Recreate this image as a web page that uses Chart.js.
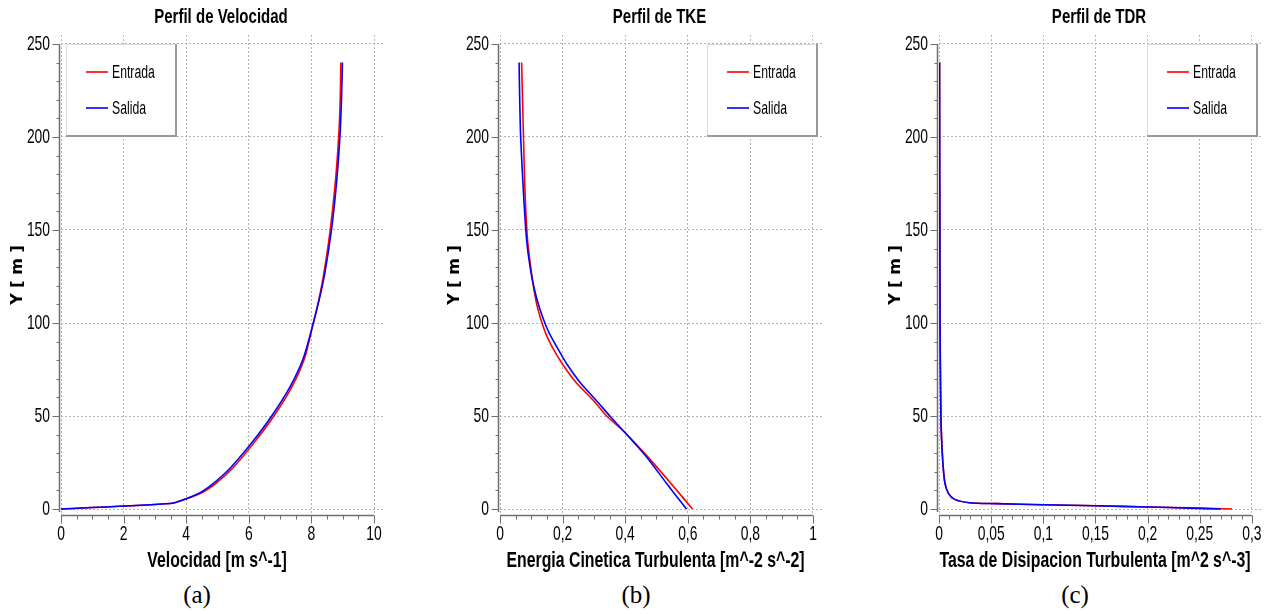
<!DOCTYPE html>
<html>
<head>
<meta charset="utf-8">
<script src="https://cdn.jsdelivr.net/npm/chart.js@4.4.1/dist/chart.umd.min.js"></script>
<style>
  body { margin: 0; background: #fff; width: 1274px; height: 614px; position: relative; overflow: hidden; }
  canvas { position: absolute; top: 0; }
  .cap { position: absolute; top: 580px; width: 60px; text-align: center; font-family: "Liberation Serif", serif; font-size: 25px; line-height: 30px; color: #000; }
</style>
</head>
<body>
<canvas id="c1" width="430" height="580" style="left:0px"></canvas>
<canvas id="c2" width="433" height="580" style="left:437px"></canvas>
<canvas id="c3" width="396" height="580" style="left:878px"></canvas>
<div class="cap" style="left:167px">(a)</div>
<div class="cap" style="left:606px">(b)</div>
<div class="cap" style="left:1045px">(c)</div>
<script>
// Perfil de velocidad
const alturaVel = [0, 3, 4.3, 8.8, 13.8, 21.9, 35.3, 50, 65.8, 81, 100, 112, 126, 150, 175, 200, 220, 240];
const velEntrada = [0, 3.5, 3.8, 4.5, 4.95, 5.48, 6.15, 6.8, 7.38, 7.78, 8.06, 8.23, 8.39, 8.6, 8.76, 8.87, 8.92, 8.94];
const velSalida = [0, 3.5, 3.8, 4.44, 4.87, 5.40, 6.08, 6.73, 7.32, 7.74, 8.06, 8.24, 8.42, 8.64, 8.8, 8.91, 8.96, 8.99];

// Perfil de TKE
const alturaTke = [0, 13.6, 27.9, 41, 50, 58.1, 68, 77.8, 86.7, 95.7, 108.8, 119.5, 130.3, 144.6, 170, 200, 220, 240];
const tkeEntrada = [0.615, 0.547, 0.473, 0.4, 0.341, 0.30, 0.243, 0.2, 0.168, 0.143, 0.119, 0.107, 0.098, 0.088, 0.08, 0.075, 0.072, 0.069];
const tkeSalida = [0.596, 0.533, 0.469, 0.4, 0.351, 0.309, 0.256, 0.214, 0.183, 0.154, 0.125, 0.108, 0.096, 0.085, 0.075, 0.066, 0.063, 0.061];

// Perfil de TDR
const alturaTdr = [0, 0.5, 1.1, 1.8, 2.3, 2.9, 3.4, 5.2, 8.4, 13.8, 22.7, 37, 50, 80, 100, 150, 200, 240];
const tdrEntrada = [0.281, 0.25, 0.2, 0.15, 0.1, 0.055, 0.029, 0.015, 0.009, 0.0058, 0.004, 0.0026, 0.0019, 0.0013, 0.0011, 0.0009, 0.0007, 0.0006];
const tdrSalida = [0.27, 0.24, 0.2, 0.15, 0.1, 0.055, 0.029, 0.015, 0.009, 0.0057, 0.004, 0.0025, 0.0018, 0.0012, 0.001, 0.0008, 0.0006, 0.0005];

// ticks
const yTicks = [0, 50, 100, 150, 200, 250];
const xTicksVel = [0, 2, 4, 6, 8, 10];
const xTicksTke = [0, 0.2, 0.4, 0.6, 0.8, 1];
const xTicksTdr = [0, 0.05, 0.1, 0.15, 0.2, 0.25, 0.3];

const fuente = "'Liberation Sans', Arial, sans-serif";

// texto estrecho (la fuente del original es muy condensada)
function texto(ctx, s, x, y, sx, align) {
    ctx.save();
    ctx.translate(x, y);
    ctx.scale(sx, 1);
    ctx.textAlign = align;
    ctx.textBaseline = "middle";
    ctx.fillText(s, 0, 0);
    ctx.restore();
}

const ejesPlugin = {
    id: "ejes",
    afterDraw(chart, args, o) {
        const ctx = chart.ctx, a = chart.chartArea;
        const xs = chart.scales.x, ys = chart.scales.y;
        ctx.save();
        ctx.strokeStyle = "#6e6e6e";

        // eje Y
        const axX = a.left - 1.5;
        ctx.lineWidth = 1.5;
        ctx.beginPath();
        ctx.moveTo(axX, ys.getPixelForValue(250));
        ctx.lineTo(axX, ys.getPixelForValue(0) + 3);
        ctx.stroke();
        ctx.lineWidth = 1;
        for (let v = 0; v <= 250; v += 10) {
            const p = Math.round(ys.getPixelForValue(v)) + 0.5;
            const len = v % 50 === 0 ? 7 : 3;
            ctx.beginPath();
            ctx.moveTo(axX - len, p);
            ctx.lineTo(axX, p);
            ctx.stroke();
        }

        // eje X
        const axY = a.bottom + 0.5;
        const n = o.nMenor;
        ctx.lineWidth = 1.5;
        ctx.beginPath();
        ctx.moveTo(xs.getPixelForValue(0), axY);
        ctx.lineTo(xs.getPixelForValue(o.paso * n), axY);
        ctx.stroke();
        ctx.lineWidth = 1;
        for (let i = 0; i <= n; i++) {
            const p = Math.round(xs.getPixelForValue(i * o.paso)) + 0.5;
            const len = i % o.sub === 0 ? 8 : 4;
            ctx.beginPath();
            ctx.moveTo(p, axY);
            ctx.lineTo(p, axY + len);
            ctx.stroke();
        }

        // etiquetas de los ejes
        ctx.fillStyle = "#000";
        ctx.font = "21px " + fuente;
        ys.ticks.forEach(t => {
            texto(ctx, String(t.value), a.left - 11, ys.getPixelForValue(t.value) + 0.5, 0.66, "right");
        });
        xs.ticks.forEach(t => {
            texto(ctx, String(t.value).replace(".", ","), xs.getPixelForValue(t.value), a.bottom + 19, 0.66, "center");
        });

        // titulos
        const cx = (a.left + a.right) / 2;
        ctx.font = "bold 19.5px " + fuente;
        texto(ctx, o.titulo, cx - 2, 18, 0.77, "center");
        ctx.font = "bold 22px " + fuente;
        texto(ctx, o.tituloX, cx - 6, a.bottom + 46, 0.72, "center");

        // leyenda
        const w = 111, h = 93;
        const x0 = o.lado === "left" ? a.left + 5 : a.right - 5 - w;
        const y0 = Math.round(a.top) + 9;
        ctx.fillStyle = "#fff";
        ctx.fillRect(x0, y0, w, h);
        ctx.strokeStyle = "#dcdcdc";
        ctx.strokeRect(x0 + 0.5, y0 + 0.5, w - 1, h - 1);
        ctx.strokeStyle = "#9a9a9a";
        ctx.lineWidth = 2;
        ctx.beginPath();
        ctx.moveTo(x0 + w - 1, y0);
        ctx.lineTo(x0 + w - 1, y0 + h - 1);
        ctx.lineTo(x0, y0 + h - 1);
        ctx.stroke();

        ctx.font = "18px " + fuente;
        chart.data.datasets.forEach((ds, i) => {
            const ly = y0 + 28 + i * 36;
            ctx.strokeStyle = ds.borderColor;
            ctx.lineWidth = 1.6;
            ctx.beginPath();
            ctx.moveTo(x0 + 20, ly);
            ctx.lineTo(x0 + 42, ly);
            ctx.stroke();
            ctx.fillStyle = "#000";
            texto(ctx, ds.label, x0 + 46, ly + 1, 0.68, "left");
        });
        ctx.restore();
    }
};

function puntos(xv, yv) {
    return xv.map((v, i) => ({ x: v, y: yv[i] }));
}

function crearGrafico(id, altura, entrada, salida, cfg) {
    const ctx = document.getElementById(id).getContext("2d");
    new Chart(ctx, {
        type: "line",
        data: {
            datasets: [
                // Salida se dibuja encima (order menor)
                { label: "Entrada", data: puntos(entrada, altura), borderColor: "#ff0000", borderWidth: 1.6, pointRadius: 0, tension: 0.25, fill: false, order: 2 },
                { label: "Salida", data: puntos(salida, altura), borderColor: "#0000ff", borderWidth: 1.6, pointRadius: 0, tension: 0.25, fill: false, order: 1 }
            ]
        },
        options: {
            responsive: false,
            animation: false,
            events: [],
            layout: { padding: { left: 0, right: cfg.padDer, top: 35, bottom: 5 } },
            plugins: {
                legend: { display: false },
                tooltip: { enabled: false },
                title: { display: false },
                ejes: {
                    lado: cfg.lado, paso: cfg.paso, nMenor: cfg.nMenor, sub: cfg.sub,
                    titulo: cfg.titulo, tituloX: cfg.tituloX
                }
            },
            scales: {
                x: {
                    type: "linear",
                    min: 0,
                    max: cfg.xMax,
                    afterBuildTicks: s => { s.ticks = cfg.xTicks.map(v => ({ value: v })); },
                    afterFit: s => { s.height = 60; },
                    grid: { color: "#b4b4b4", lineWidth: 1, drawTicks: false },
                    border: { display: false, dash: [2, 2] },
                    ticks: { display: false }
                },
                y: {
                    type: "linear",
                    min: -3.2,
                    max: 254.8,
                    afterBuildTicks: s => { s.ticks = yTicks.map(v => ({ value: v })); },
                    afterFit: s => { s.width = cfg.anchoY; },
                    grid: { color: "#b4b4b4", lineWidth: 1, drawTicks: false },
                    border: { display: false, dash: [2, 2] },
                    ticks: { display: false },
                    title: {
                        display: true,
                        text: "Y [ m ]",
                        color: "#000",
                        font: { family: "'DejaVu Sans', sans-serif", size: 16, weight: "bold" },
                        padding: { top: 8, bottom: 0 }
                    }
                }
            }
        },
        plugins: [ejesPlugin]
    });
}

crearGrafico("c1", alturaVel, velEntrada, velSalida, {
    titulo: "Perfil de Velocidad", tituloX: "Velocidad [m s^-1]",
    xMax: 10.35, xTicks: xTicksVel, paso: 0.5, nMenor: 20, sub: 4,
    lado: "left", anchoY: 61, padDer: 45
});
crearGrafico("c2", alturaTke, tkeEntrada, tkeSalida, {
    titulo: "Perfil de TKE", tituloX: "Energia Cinetica Turbulenta [m^-2 s^-2]",
    xMax: 1.032, xTicks: xTicksTke, paso: 0.05, nMenor: 20, sub: 4,
    lado: "right", anchoY: 63, padDer: 47
});
crearGrafico("c3", alturaTdr, tdrEntrada, tdrSalida, {
    titulo: "Perfil de TDR", tituloX: "Tasa de Disipacion Turbulenta [m^2 s^-3]",
    xMax: 0.3106, xTicks: xTicksTdr, paso: 0.01, nMenor: 30, sub: 5,
    lado: "right", anchoY: 61, padDer: 11
});
</script>
</body>
</html>
